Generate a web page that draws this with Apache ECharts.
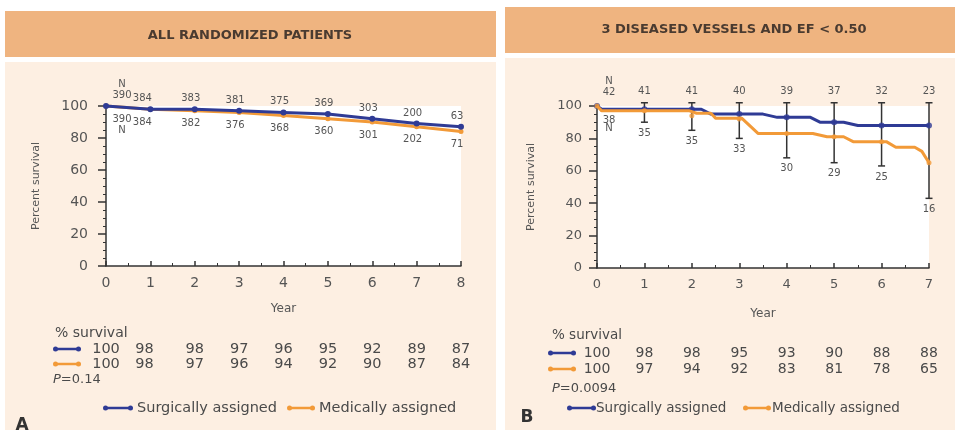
<!DOCTYPE html>
<html>
<head>
<meta charset="utf-8">
<script src="https://cdn.jsdelivr.net/npm/echarts/dist/echarts.min.js"></script>
<style>
html, body { margin: 0; padding: 0; background: #fff; }
#wrap { position: relative; width: 960px; height: 432px; overflow: hidden; }
.hd { position: absolute; background: #efb480; }
.bd { position: absolute; background: #fdefe2; }
#chart { position: absolute; left: 0; top: 0; width: 960px; height: 432px; }
</style>
</head>
<body>
<div id="wrap">
  <div class="hd" style="left:5px;top:11px;width:491px;height:46px"></div>
  <div class="bd" style="left:5px;top:62px;width:491px;height:368px"></div>
  <div class="hd" style="left:505px;top:7px;width:450px;height:46px"></div>
  <div class="bd" style="left:505px;top:58px;width:450px;height:372px"></div>
  <div id="chart"></div>
</div>
<script>
// panel A - all randomized patients
var yearsA = [0, 1, 2, 3, 4, 5, 6, 7, 8];
var surgSurvA = [100, 98, 98, 97, 96, 95, 92, 89, 87];
var medSurvA = [100, 98, 97, 96, 94, 92, 90, 87, 84];
var surgNA = [390, 384, 383, 381, 375, 369, 303, 200, 63];
var medNA = [390, 384, 382, 376, 368, 360, 301, 202, 71];

// panel B - 3 diseased vessels and EF < 0.50
var yearsB = [0, 1, 2, 3, 4, 5, 6, 7];
var surgSurvB = [100, 98, 98, 95, 93, 90, 88, 88];
var medSurvB = [100, 97, 94, 92, 83, 81, 78, 65];
var surgNB = [42, 41, 41, 40, 39, 37, 32, 23];
var medNB = [38, 35, 35, 33, 30, 29, 25, 16];
var ciHighB = [null, 102, 102, 102, 102, 102, 102, 102];
var ciLowB = [null, 90, 85, 80, 68, 65, 63, 43];

// step curves of panel B (year, % survival)
var surgCurveTB = [0, 0.1, 2.2, 2.4, 3.5, 3.8, 4.5, 4.7, 5.2, 5.5, 7];
var surgCurveSB = [100, 98, 98, 95, 95, 93, 93, 90, 90, 88, 88];
var medCurveTB = [0, 0.1, 1.95, 2.1, 2.4, 2.5, 3.05, 3.4, 4.55, 4.85, 5.2, 5.4, 6.1, 6.3, 6.7, 6.85, 7];
var medCurveSB = [100, 97, 97, 95.5, 95.5, 92.5, 92.5, 83, 83, 81, 81, 78, 78, 74.5, 74.5, 72, 65];

var pValueA = '0.14';
var pValueB = '0.0094';
var groups = ['Surgically assigned', 'Medically assigned'];

var FONT = '"DejaVu Sans", Verdana, sans-serif';
var BLUE = '#2f3b95';
var ORANGE = '#f29a38';
var INK = '#4a4a4a';
var AXIS = '#333';

var chart = echarts.init(document.getElementById('chart'));

function xAxisCfg(gi, max, gap, fs) {
    return {
        type: 'value', gridIndex: gi, min: 0, max: max, interval: 1,
        name: 'Year', nameLocation: 'middle', nameGap: gap,
        nameTextStyle: { color: '#555', fontSize: 12, fontFamily: FONT },
        axisLine: { show: true, lineStyle: { color: AXIS, width: 1.5 } },
        axisTick: { show: true, inside: true, length: 5, lineStyle: { color: AXIS, width: 1.5 } },
        minorTick: { show: true, splitNumber: 2, length: 3, lineStyle: { color: AXIS } },
        axisLabel: { color: '#555', fontSize: fs, margin: 10, fontFamily: FONT },
        splitLine: { show: false }
    };
}

function yAxisCfg(gi, gap, fs, margin) {
    return {
        type: 'value', gridIndex: gi, min: 0, max: 100, interval: 20,
        name: 'Percent survival', nameLocation: 'middle', nameGap: gap,
        nameTextStyle: { color: '#555', fontSize: 11, fontFamily: FONT },
        axisLine: { show: true, lineStyle: { color: AXIS, width: 1.5 } },
        axisTick: { show: true, length: 8, lineStyle: { color: AXIS, width: 1.5 } },
        minorTick: { show: true, splitNumber: 4, length: 3, lineStyle: { color: AXIS } },
        axisLabel: { color: '#555', fontSize: fs, margin: margin, fontFamily: FONT },
        splitLine: { show: false }
    };
}

function labelOffset(i) {
    if (i === 0) return [16, 0];
    if (i === 1) return [-8, 0];
    return [-4, 0];
}

var surgDataA = yearsA.map(function (x, i) {
    return { value: [x, surgSurvA[i]], label: { offset: labelOffset(i) } };
});
var medDataA = yearsA.map(function (x, i) {
    return { value: [x, medSurvA[i]], label: { offset: labelOffset(i) } };
});

var nLabel = { show: true, fontSize: 10, color: '#555', fontFamily: FONT, lineHeight: 11 };

function ciRender(params, api) {
    var i = params.dataIndex;
    var x = api.value(0);
    var top = api.coord([x, api.value(1)]);
    var bot = api.coord([x, api.value(2)]);
    var kids = [];
    function txt(s, px, py) {
        return { type: 'text', style: { text: s, x: px, y: py, align: 'center', verticalAlign: 'middle',
            fill: '#555', fontSize: 10, fontFamily: FONT } };
    }
    function seg(x1, y1, x2, y2) {
        return { type: 'line', shape: { x1: x1, y1: y1, x2: x2, y2: y2 }, style: { stroke: '#333', lineWidth: 1.5 } };
    }
    if (ciHighB[i] != null) {
        kids.push(seg(top[0], top[1], bot[0], bot[1]));
        kids.push(seg(top[0] - 3.5, top[1], top[0] + 3.5, top[1]));
        kids.push(seg(bot[0] - 3.5, bot[1], bot[0] + 3.5, bot[1]));
        kids.push(txt(String(surgNB[i]), top[0], top[1] - 11));
        kids.push(txt(String(medNB[i]), bot[0], bot[1] + 11));
    } else {
        kids.push(txt(String(surgNB[i]), top[0] + 12, top[1] - 14));
        kids.push(txt('N', top[0] + 12, top[1] - 25));
        kids.push(txt(String(medNB[i]), bot[0] + 12, bot[1] + 14));
        kids.push(txt('N', bot[0] + 12, bot[1] + 22));
    }
    return { type: 'group', children: kids };
}

var option = {
    animation: false,
    textStyle: { fontFamily: FONT },
    grid: [
        { left: 106, top: 106, width: 355, height: 160, show: true, backgroundColor: '#fff', borderWidth: 0 },
        { left: 597, top: 106, width: 332, height: 162, show: true, backgroundColor: '#fff', borderWidth: 0 }
    ],
    xAxis: [xAxisCfg(0, 8, 37, 14), xAxisCfg(1, 7, 40, 13)],
    yAxis: [yAxisCfg(0, 64, 14, 18), yAxisCfg(1, 60, 13, 15)],
    series: [
        {
            name: groups[1], type: 'line', xAxisIndex: 0, yAxisIndex: 0, z: 3, clip: false,
            data: medDataA, color: ORANGE, symbol: 'circle', symbolSize: 5,
            lineStyle: { width: 3 },
            label: Object.assign({}, nLabel, {
                position: 'bottom', distance: 5,
                formatter: function (p) { return p.dataIndex === 0 ? medNA[0] + '\nN' : String(medNA[p.dataIndex]); }
            })
        },
        {
            name: groups[0], type: 'line', xAxisIndex: 0, yAxisIndex: 0, z: 4, clip: false,
            data: surgDataA, color: BLUE, symbol: 'circle', symbolSize: 6,
            lineStyle: { width: 3 },
            label: Object.assign({}, nLabel, {
                position: 'top', distance: 2,
                formatter: function (p) { return p.dataIndex === 0 ? 'N\n' + surgNA[0] : String(surgNA[p.dataIndex]); }
            })
        },
        {
            name: groups[0], type: 'line', xAxisIndex: 1, yAxisIndex: 1, z: 3, clip: false,
            data: surgCurveTB.map(function (t, i) { return [t, surgCurveSB[i]]; }),
            color: BLUE, symbol: 'none', lineStyle: { width: 3 }
        },
        {
            name: groups[1], type: 'line', xAxisIndex: 1, yAxisIndex: 1, z: 5, clip: false,
            data: medCurveTB.map(function (t, i) { return [t, medCurveSB[i]]; }),
            color: ORANGE, symbol: 'none', lineStyle: { width: 3 }
        },
        {
            name: 'ci', type: 'custom', xAxisIndex: 1, yAxisIndex: 1, z: 2, clip: false,
            renderItem: ciRender,
            data: yearsB.map(function (x, i) {
                return [x, ciHighB[i] != null ? ciHighB[i] : surgSurvB[i], ciLowB[i] != null ? ciLowB[i] : medSurvB[i]];
            })
        },
        {
            name: 'surgB', type: 'scatter', xAxisIndex: 1, yAxisIndex: 1, z: 4,
            data: yearsB.map(function (x, i) { return [x, surgSurvB[i]]; }),
            color: BLUE, symbolSize: 6
        },
        {
            name: 'medB', type: 'scatter', xAxisIndex: 1, yAxisIndex: 1, z: 6,
            data: yearsB.map(function (x, i) { return [x, medSurvB[i]]; }),
            color: ORANGE, symbolSize: 5
        }
    ]
};

chart.setOption(option);

// static texts, keys and the % survival tables (columns placed on the axis scale)
function txt(s, x, y, opt) {
    var st = { text: s, x: x, y: y, align: 'center', verticalAlign: 'middle', fill: INK, fontSize: 13, fontFamily: FONT };
    Object.assign(st, opt || {});
    return { type: 'text', silent: true, style: st };
}
function keyIcon(x, y, color, w) {
    return {
        type: 'group', silent: true, children: [
            { type: 'line', shape: { x1: x + 2, y1: y, x2: x + w - 2, y2: y }, style: { stroke: color, lineWidth: 2.5 } },
            { type: 'circle', shape: { cx: x + 2.5, cy: y, r: 2.5 }, style: { fill: color } },
            { type: 'circle', shape: { cx: x + w - 2.5, cy: y, r: 2.5 }, style: { fill: color } }
        ]
    };
}
var pRich = { i: { fontStyle: 'italic', fontSize: 13, fill: INK, fontFamily: FONT } };

var g = [];
g.push(txt('ALL RANDOMIZED PATIENTS', 250, 36, { fontSize: 13, fontWeight: 'bold', fill: '#4a3b30' }));
g.push(txt('3 DISEASED VESSELS AND EF < 0.50', 734, 30, { fontSize: 13, fontWeight: 'bold', fill: '#4a3b30' }));
g.push(txt('A', 22, 426, { fontSize: 17, fontWeight: 'bold', fill: '#333' }));
g.push(txt('B', 527, 418, { fontSize: 17, fontWeight: 'bold', fill: '#333' }));

// panel A table
g.push(txt('% survival', 55, 333, { align: 'left', fontSize: 14 }));
g.push(keyIcon(53, 349, BLUE, 28));
g.push(keyIcon(53, 364, ORANGE, 28));
g.push(txt('{i|P}=' + pValueA, 53, 380, { align: 'left', fontSize: 13, rich: pRich }));
yearsA.forEach(function (yr, i) {
    var px = chart.convertToPixel({ xAxisIndex: 0 }, yr) + (i === 1 ? -6 : 0);
    g.push(txt(String(surgSurvA[i]), px, 349, { fontSize: 14.5 }));
    g.push(txt(String(medSurvA[i]), px, 364, { fontSize: 14.5 }));
});
g.push(keyIcon(103, 408, BLUE, 30));
g.push(txt(groups[0], 137, 408, { align: 'left', fontSize: 14.5 }));
g.push(keyIcon(287, 408, ORANGE, 28));
g.push(txt(groups[1], 319, 408, { align: 'left', fontSize: 14.5 }));

// panel B table
g.push(txt('% survival', 552, 335, { align: 'left', fontSize: 13.5 }));
g.push(keyIcon(548, 353, BLUE, 28));
g.push(keyIcon(548, 369, ORANGE, 28));
g.push(txt('{i|P}=' + pValueB, 552, 389, { align: 'left', fontSize: 13, rich: pRich }));
yearsB.forEach(function (yr, i) {
    var px = chart.convertToPixel({ xAxisIndex: 1 }, yr);
    g.push(txt(String(surgSurvB[i]), px, 353, { fontSize: 14 }));
    g.push(txt(String(medSurvB[i]), px, 369, { fontSize: 14 }));
});
g.push(keyIcon(567, 408, BLUE, 29));
g.push(txt(groups[0], 596, 408, { align: 'left', fontSize: 13.5 }));
g.push(keyIcon(743, 408, ORANGE, 28));
g.push(txt(groups[1], 772, 408, { align: 'left', fontSize: 13.5 }));

chart.setOption({ graphic: g });
</script>
</body>
</html>
